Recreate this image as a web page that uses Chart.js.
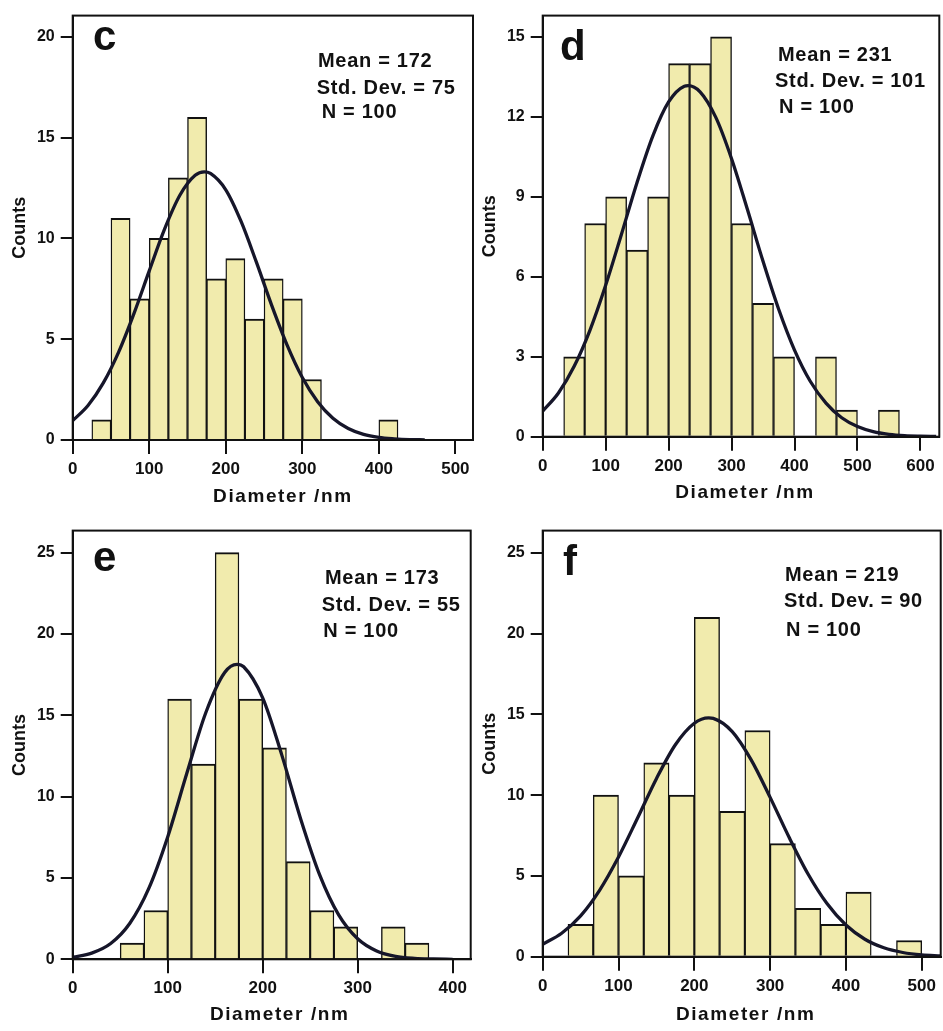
<!DOCTYPE html>
<html><head><meta charset="utf-8">
<script src="https://cdn.jsdelivr.net/npm/chart.js@4"></script>
<style>
html,body{margin:0;padding:0;background:#fff;}
body{width:943px;height:1031px;position:relative;overflow:hidden;}
canvas{position:absolute;}
</style></head><body>
<canvas id="pc" width="480" height="515" style="left:0px;top:0px"></canvas>
<canvas id="pd" width="473" height="515" style="left:470px;top:0px"></canvas>
<canvas id="pe" width="480" height="516" style="left:0px;top:515px"></canvas>
<canvas id="pf" width="473" height="516" style="left:470px;top:515px"></canvas>
<script>
// ---- Panel c ----
const binsC = [25,50,75,100,125,150,175,200,225,250,275,300,325,350,375,400];
const countsC = [1,11,7,10,13,16,8,9,6,8,7,3,0,0,0,1];
const curveXC = [0,20,40,60,80,100,120,140,160,172,180,200,220,240,260,280,300,320,340,360,380,400,420,440,460];
const curveYC = [0.96,1.71,2.83,4.36,6.27,8.39,10.46,12.14,13.13,13.30,13.22,12.41,10.84,8.82,6.68,4.72,3.10,1.90,1.08,0.57,0.28,0.13,0.06,0.02,0.01];
const xTicksC = [0,100,200,300,400,500];
const yTicksC = [0,5,10,15,20];
const statsC = ['Mean = 172','Std. Dev. = 75','N = 100'];

// ---- Panel d ----
const binsD = [100/3,200/3,100,400/3,500/3,200,700/3,800/3,300,1000/3,1100/3,400,1300/3,1400/3,500,1600/3];
const countsD = [3,8,9,7,9,14,14,15,8,5,3,0,3,1,0,1];
const curveXD = [0,25,50,75,100,125,150,175,200,225,231,250,275,300,325,350,375,400,425,450,475,500,525,550,575,600,625];
const curveYD = [0.96,1.64,2.64,3.99,5.68,7.59,9.55,11.29,12.56,13.15,13.17,12.94,11.98,10.43,8.54,6.58,4.77,3.25,2.08,1.26,0.71,0.38,0.19,0.09,0.04,0.02,0.01];
const xTicksD = [0,100,200,300,400,500,600];
const yTicksD = [0,3,6,9,12,15];
const statsD = ['Mean = 231','Std. Dev. = 101','N = 100'];

// ---- Panel e ----
const binsE = [50,75,100,125,150,175,200,225,250,275,300,325,350];
const countsE = [1,3,16,12,25,16,13,6,3,2,0,2,1];
const curveXE = [0,20,40,60,80,100,120,140,160,173,180,200,220,240,260,280,300,320,340,360,380,400];
const curveYE = [0.13,0.38,0.97,2.20,4.34,7.52,11.40,15.14,17.63,18.13,17.98,16.07,12.58,8.63,5.19,2.73,1.26,0.51,0.18,0.06,0.02,0.00];
const xTicksE = [0,100,200,300,400];
const yTicksE = [0,5,10,15,20,25];
const statsE = ['Mean = 173','Std. Dev. = 55','N = 100'];

// ---- Panel f ----
const binsF = [100/3,200/3,100,400/3,500/3,200,700/3,800/3,300,1000/3,1100/3,400,1300/3,1400/3];
const countsF = [2,10,5,12,10,21,9,14,7,3,2,4,0,1];
const curveXF = [0,25,50,75,100,125,150,175,200,219,225,250,275,300,325,350,375,400,425,450,475,500,525];
const curveYF = [0.77,1.45,2.53,4.11,6.17,8.57,11.02,13.12,14.45,14.78,14.75,13.93,12.18,9.86,7.39,5.12,3.29,1.96,1.08,0.55,0.26,0.11,0.05];
const xTicksF = [0,100,200,300,400,500];
const yTicksF = [0,5,10,15,20,25];
const statsF = ['Mean = 219','Std. Dev. = 90','N = 100'];

const xTitle = 'Diameter /nm';
const yTitle = 'Counts';

const FAM = '"Liberation Sans", Arial, Helvetica, sans-serif';
const INK = '#111111';

const decor = {
  id: 'decor',
  afterDatasetsDraw(chart, args, o) {
    const ctx = chart.ctx, a = chart.chartArea;
    ctx.save();
    ctx.strokeStyle = INK; ctx.lineWidth = 2;
    ctx.strokeRect(a.left, a.top, a.right - a.left, a.bottom - a.top);
    ctx.fillStyle = INK;
    ctx.textAlign = 'left';
    ctx.textBaseline = 'alphabetic';
    ctx.font = 'bold 42px ' + FAM;
    ctx.fillText(o.letter, o.letterPos[0], o.letterPos[1]);
    ctx.font = 'bold 20px ' + FAM;
    ctx.letterSpacing = '0.7px';
    ctx.textBaseline = 'middle';
    o.stats.forEach((t, i) => ctx.fillText(t, o.statsPos[i][0], o.statsPos[i][1]));
    ctx.font = 'bold 19px ' + FAM;
    ctx.letterSpacing = '1.6px';
    ctx.textAlign = 'center';
    ctx.fillText(xTitle, (a.left + a.right) / 2 + o.titleDx, o.titleY);
    ctx.letterSpacing = '0px';
    ctx.restore();
  }
};

function panel(id, p) {
  new Chart(document.getElementById(id), {
    type: 'bar',
    data: {
      datasets: [
        {
          type: 'line',
          data: p.curveX.map((x, i) => ({x: x, y: p.curveY[i]})),
          borderColor: '#16162a', borderWidth: 3.3, pointRadius: 0,
          cubicInterpolationMode: 'monotone', fill: false, order: 1
        },
        {
          type: 'bar',
          data: p.bins.map((b, i) => ({x: b + p.binWidth / 2, y: p.counts[i]})),
          backgroundColor: '#f1ebad', borderColor: INK,
          borderWidth: {left: 1.4, right: 1.4, top: 2, bottom: 0},
          borderSkipped: false, barPercentage: 1, categoryPercentage: 1, order: 2
        }
      ]
    },
    options: {
      responsive: false, animation: false, devicePixelRatio: 1,
      layout: {padding: {left: 0, top: p.padTop, right: p.padRight, bottom: 0}},
      plugins: {legend: {display: false}, tooltip: {enabled: false}, decor: p.decor},
      scales: {
        x: {
          type: 'linear', min: 0, max: p.xMax, offset: false,
          afterBuildTicks: s => { s.ticks = p.xTicks.map(v => ({value: v})); },
          afterFit: s => { s.height = p.xAxisH; },
          grid: {display: true, drawOnChartArea: false, drawTicks: true, tickLength: 14, lineWidth: 2, color: INK, tickColor: INK, offset: false},
          border: {display: true, color: INK, width: 2},
          ticks: {color: INK, font: {family: FAM, size: 17, weight: 'bold'}, padding: 5, maxRotation: 0, autoSkip: false},
          title: {display: false}
        },
        y: {
          type: 'linear', min: 0, max: p.yMax,
          afterBuildTicks: s => { s.ticks = p.yTicks.map(v => ({value: v})); },
          afterFit: s => { s.width = 72.7; },
          grid: {display: true, drawOnChartArea: false, drawTicks: true, tickLength: 12, lineWidth: 2, color: INK, tickColor: INK},
          border: {display: true, color: INK, width: 2},
          ticks: {color: INK, font: {family: FAM, size: 16, weight: 'bold'}, padding: 6, autoSkip: false},
          title: {display: true, text: yTitle, color: INK, font: {family: FAM, size: 18, weight: 'bold'}, padding: {top: 9, bottom: 0}}
        }
      }
    },
    plugins: [decor]
  });
}

panel('pc', {bins: binsC, counts: countsC, binWidth: 25, curveX: curveXC, curveY: curveYC,
  xTicks: xTicksC, yTicks: yTicksC, xMax: 523, yMax: 21.05, padTop: 7.3, padRight: 7, xAxisH: 75,
  decor: {letter: 'c', letterPos: [93, 50], stats: statsC, statsPos: [[318, 61.7], [316.7, 88.3], [321.7, 112.5]], titleDx: 10, titleY: 497}});

panel('pd', {bins: binsD, counts: countsD, binWidth: 100/3, curveX: curveXD, curveY: curveYD,
  xTicks: xTicksD, yTicks: yTicksD, xMax: 630, yMax: 15.8, padTop: 8.3, padRight: 3.7, xAxisH: 78.3,
  decor: {letter: 'd', letterPos: [90, 60], stats: statsD, statsPos: [[308, 55], [305, 81.7], [309, 107.7]], titleDx: 4, titleY: 493}});

panel('pe', {bins: binsE, counts: countsE, binWidth: 25, curveX: curveXE, curveY: curveYE,
  xTicks: xTicksE, yTicks: yTicksE, xMax: 419, yMax: 26.35, padTop: 11, padRight: 9.3, xAxisH: 71.7,
  decor: {letter: 'e', letterPos: [93, 56], stats: statsE, statsPos: [[325, 63.3], [321.7, 90], [323.3, 116.7]], titleDx: 8, titleY: 500}});

panel('pf', {bins: binsF, counts: countsF, binWidth: 100/3, curveX: curveXF, curveY: curveYF,
  xTicks: xTicksF, yTicks: yTicksF, xMax: 525, yMax: 26.37, padTop: 11, padRight: 2.3, xAxisH: 74.3,
  decor: {letter: 'f', letterPos: [93, 60], stats: statsF, statsPos: [[315, 60], [314, 86.7], [316, 115]], titleDx: 4, titleY: 500}});
</script>
</body></html>
